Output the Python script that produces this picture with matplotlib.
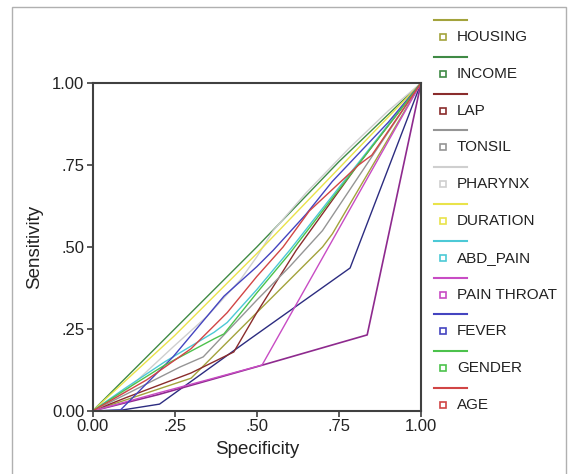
import numpy as np
import matplotlib
matplotlib.use("Agg")
from matplotlib import pyplot as plt
from matplotlib.lines import Line2D
from matplotlib.patches import Rectangle

plt.rcParams['font.family'] = ['Liberation Sans', 'DejaVu Sans']

# ROC curves (x = 1 - specificity, y = sensitivity)
housing_x = [0, 0.15, 0.30, 0.50, 0.70, 0.73, 1.0]
housing_y = [0, 0.05, 0.10, 0.30, 0.50, 0.54, 1.0]
income_x = [0, 0.25, 0.50, 0.75, 1.0]
income_y = [0, 0.25, 0.50, 0.76, 1.0]
lap_x = [0, 0.10, 0.30, 0.43, 0.50, 0.62, 0.80, 1.0]
lap_y = [0, 0.04, 0.116, 0.18, 0.30, 0.49, 0.74, 1.0]
tonsil_x = [0, 0.10, 0.266, 0.337, 0.50, 0.60, 0.70, 0.90, 1.0]
tonsil_y = [0, 0.05, 0.134, 0.165, 0.338, 0.44, 0.55, 0.85, 1.0]
pharynx_x = [0, 0.10, 0.245, 0.35, 0.45, 0.50, 0.55, 0.65, 0.78, 0.90, 1.0]
pharynx_y = [0, 0.06, 0.195, 0.29, 0.40, 0.47, 0.55, 0.665, 0.80, 0.915, 1.0]
duration_x = [0, 0.25, 0.50, 0.75, 1.0]
duration_y = [0, 0.23, 0.48, 0.74, 1.0]
abd_x = [0, 0.10, 0.22, 0.37, 0.41, 0.50, 0.60, 0.80, 1.0]
abd_y = [0, 0.07, 0.15, 0.24, 0.27, 0.37, 0.49, 0.745, 1.0]
throat_x = [0, 0.20, 0.35, 0.516, 1.0]
throat_y = [0, 0.055, 0.095, 0.14, 1.0]
fever_x = [0, 0.085, 0.245, 0.40, 0.50, 0.55, 0.65, 0.73, 0.90, 1.0]
fever_y = [0, 0.003, 0.165, 0.35, 0.44, 0.49, 0.60, 0.70, 0.88, 1.0]
gender_x = [0, 0.10, 0.22, 0.37, 0.40, 0.50, 0.60, 0.80, 1.0]
gender_y = [0, 0.065, 0.14, 0.22, 0.235, 0.36, 0.48, 0.74, 1.0]
age_x = [0, 0.165, 0.30, 0.41, 0.50, 0.58, 0.66, 0.81, 0.85, 1.0]
age_y = [0, 0.095, 0.19, 0.30, 0.41, 0.50, 0.61, 0.75, 0.78, 1.0]
# two more curves drawn in the chart but missing from its legend
navy_x = [0, 0.09, 0.204, 0.48, 0.784, 1.0]
navy_y = [0, 0.003, 0.021, 0.22, 0.436, 1.0]
purple_x = [0, 0.20, 0.50, 0.836, 1.0]
purple_y = [0, 0.05, 0.135, 0.232, 1.0]

names = ["HOUSING", "INCOME", "LAP", "TONSIL", "PHARYNX", "DURATION",
         "ABD_PAIN", "PAIN THROAT", "FEVER", "GENDER", "AGE"]
xs = [housing_x, income_x, lap_x, tonsil_x, pharynx_x, duration_x,
      abd_x, throat_x, fever_x, gender_x, age_x]
ys = [housing_y, income_y, lap_y, tonsil_y, pharynx_y, duration_y,
      abd_y, throat_y, fever_y, gender_y, age_y]
colors = ["#a3a33c", "#3f8a45", "#8a2c2c", "#959595", "#cfcfcf", "#e9e34a",
          "#4cc9d6", "#c84cc4", "#4444c0", "#4cc24c", "#d14545"]

ticks = [0, 0.25, 0.5, 0.75, 1.0]
tick_labels = ["0.00", ".25", ".50", ".75", "1.00"]

fig = plt.figure(figsize=(5.69, 4.74), dpi=100)
fig.patches.append(Rectangle((12/569, -0.01), 554/569, 1 - 7/474 + 0.01,
                             transform=fig.transFigure, fill=False,
                             edgecolor="#b0b0b0", linewidth=1.0))

ax = fig.add_axes([0.1626, 0.1329, 0.5774, 0.692])
ax.plot(navy_x, navy_y, color="#2c2c80", lw=1.0)
ax.plot(purple_x, purple_y, color="#8e2a8e", lw=1.2)
for x, y, c in zip(xs, ys, colors):
    ax.plot(x, y, color=c, lw=1.0)

ax.set_xlim(0, 1)
ax.set_ylim(0, 1)
ax.set_xticks(ticks)
ax.set_xticklabels(tick_labels)
ax.set_yticks(ticks)
ax.set_yticklabels(tick_labels)
ax.tick_params(direction="out", length=4, width=1.2, colors="#404040",
               labelsize=12, labelcolor="#222222", pad=2)
for s in ax.spines.values():
    s.set_color("#404040")
    s.set_linewidth(1.5)
ax.set_xlabel("Specificity", fontsize=13.5, color="#222222", labelpad=5)
ax.set_ylabel("Sensitivity", fontsize=13.5, color="#222222", labelpad=6)

# SPSS-style legend: line sample above, hollow square + name below
for i, (n, c) in enumerate(zip(names, colors)):
    ly = 1 - (20 + i * 36.8) / 474
    ty = 1 - (37 + i * 36.8) / 474
    fig.add_artist(Line2D([434/569, 467/569], [ly, ly], color=c, lw=1.5,
                          transform=fig.transFigure))
    fig.add_artist(Line2D([443/569], [ty], marker="s", markersize=4.5,
                          markerfacecolor="white", markeredgecolor=c,
                          markeredgewidth=1.2, transform=fig.transFigure))
    fig.text(457/569, ty, n, fontsize=11, color="#222222", va="center")

fig.savefig("out.png", dpi=100)
